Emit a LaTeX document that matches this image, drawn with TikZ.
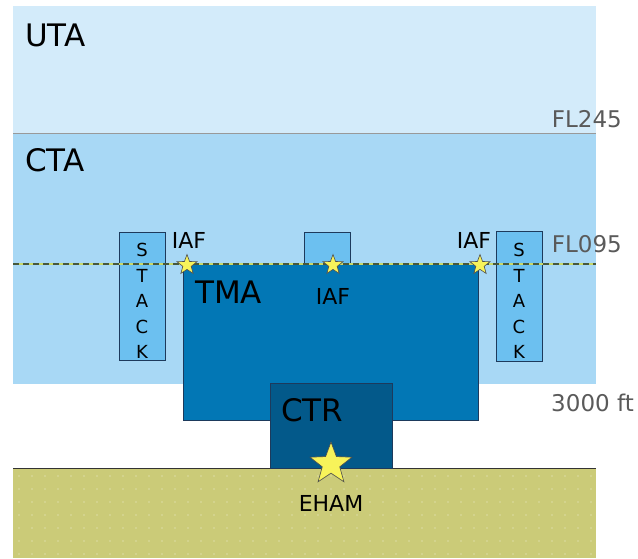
\documentclass[tikz,border=0pt]{standalone}
\usepackage{fontspec}
\setmainfont{DejaVu Sans}
\usetikzlibrary{shapes.geometric}
\definecolor{utac}{HTML}{D3EBFA}
\definecolor{ctac}{HTML}{A8D8F5}
\definecolor{tmac}{HTML}{0277B5}
\definecolor{ctrc}{HTML}{03598A}
\definecolor{stackc}{HTML}{6CC0F0}
\definecolor{groundc}{HTML}{CBCB78}
\definecolor{edgec}{HTML}{1D3A5C}
\definecolor{flc}{HTML}{5A5A5A}
\definecolor{starc}{HTML}{F7F35A}
\tikzset{
  zone/.style={draw=edgec, line width=0.8pt},
  lbl/.style={inner sep=0pt, text=black},
  fl/.style={inner sep=0pt, text=flc, anchor=east, font=\fontsize{23}{23}\selectfont},
  iaf/.style={star, star points=5, star point ratio=2.4, fill=starc, draw=black!70, line width=0.6pt, minimum size=21pt, inner sep=0pt},
  stacktxt/.style={inner sep=0pt, align=center, font=\fontsize{18}{25.5}\selectfont}
}
\begin{document}
\begin{tikzpicture}[x=1pt,y=-1pt]
\useasboundingbox (0,0) rectangle (638,558);
% bands
\fill[utac] (13,6) rectangle (596,133);
\fill[ctac] (13,133) rectangle (596,384);
\draw[gray!80, line width=0.8pt] (13,133) -- (596,133);
% ground
\fill[groundc] (13,468) rectangle (596,558);
\foreach \i in {0,...,44} {
  \foreach \j in {0,...,6} {
    \fill[white!70!groundc] (19+\i*13, 476+\j*13) circle (0.7);
  }
}
\draw[black!80, line width=0.8pt] (13,468) -- (596,468);
% stacks
\filldraw[zone, fill=stackc] (119,232) rectangle (165,360);
\filldraw[zone, fill=stackc] (496,231) rectangle (542,361);
\node[stacktxt] (stackL) at (142,301) {S\\T\\A\\C\\K};
\node[stacktxt] (stackR) at (519,301) {S\\T\\A\\C\\K};
% small box
\filldraw[zone, fill=stackc] (304,232) rectangle (350,264);
% TMA
\filldraw[zone, fill=tmac] (183,264) rectangle (478,420);
% CTR
\filldraw[zone, fill=ctrc] (270,383) rectangle (392,468);
% dashed line
\draw[color={rgb,255:red,200;green,216;blue,106}, line width=1.2pt] (13,264) -- (596,264);
\draw[color={rgb,255:red,70;green,88;blue,60}, line width=1.2pt, dash pattern=on 6pt off 4pt] (13,264) -- (596,264);
% stars
\node[iaf] (s1) at (187,265) {};
\node[iaf] (s2) at (333,265) {};
\node[iaf] (s3) at (480,265) {};
\node[iaf, minimum size=44pt] (s4) at (331,464) {};
% labels
\node[lbl, font=\fontsize{31}{31}\selectfont, anchor=west] (uta) at (25,35) {UTA};
\node[lbl, font=\fontsize{31}{31}\selectfont, anchor=west] (cta) at (25,160) {CTA};
\node[lbl, font=\fontsize{31}{31}\selectfont, anchor=west] (tma) at (195,292) {TMA};
\node[lbl, font=\fontsize{31}{31}\selectfont, anchor=west] (ctr) at (281,410) {CTR};
\node[lbl, font=\fontsize{22}{22}\selectfont] (iaf1) at (189,240) {IAF};
\node[lbl, font=\fontsize{22}{22}\selectfont] (iaf2) at (333,296) {IAF};
\node[lbl, font=\fontsize{22}{22}\selectfont] (iaf3) at (474,240) {IAF};
\node[lbl, font=\fontsize{22}{22}\selectfont] (eham) at (331,503) {EHAM};
\node[fl] (fl245) at (622,119) {FL245};
\node[fl] (fl095) at (622,244) {FL095};
\node[fl] (ft3000) at (634,403) {3000 ft};
\end{tikzpicture}
\end{document}
